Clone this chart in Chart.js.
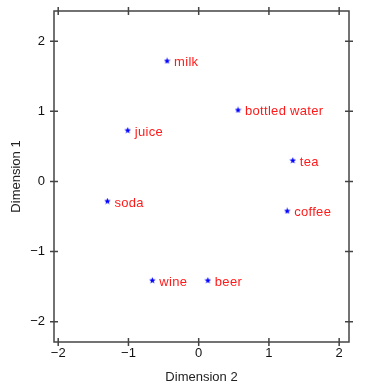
<!DOCTYPE html>
<html><head><meta charset="utf-8">
<script src="https://cdn.jsdelivr.net/npm/chart.js@4"></script>
<style>html,body{margin:0;padding:0;background:#fff}</style>
</head><body>
<canvas id="c" width="381" height="386"></canvas>
<script>
// Data
const labels = ['milk', 'bottled water', 'juice', 'tea', 'soda', 'coffee', 'wine', 'beer'];
const dim2 = [-0.45, 0.56, -1.01, 1.34, -1.30, 1.26, -0.66, 0.13];
const dim1 = [1.72, 1.02, 0.73, 0.30, -0.28, -0.42, -1.41, -1.41];
const tickValues = [-2, -1, 0, 1, 2];
const xTitle = 'Dimension 2';
const yTitle = 'Dimension 1';

const FONT = "'Liberation Sans', Arial, Helvetica, sans-serif";
const AXIS_COLOR = '#444';

// small filled 5-point star marker
function makeStar(color) {
  const c = document.createElement('canvas');
  c.width = 7; c.height = 7;
  const g = c.getContext('2d');
  g.fillStyle = color;
  g.beginPath();
  for (let i = 0; i < 10; i++) {
    const r = i % 2 === 0 ? 3.4 : 1.5;
    const a = -Math.PI / 2 + i * Math.PI / 5;
    const px = 3.5 + r * Math.cos(a), py = 3.7 + r * Math.sin(a);
    i === 0 ? g.moveTo(px, py) : g.lineTo(px, py);
  }
  g.closePath();
  g.fill();
  return c;
}

const points = dim2.map((x, i) => ({x: x, y: dim1[i]}));
const fmt = v => (v < 0 ? '\u2212' + Math.abs(v) : String(v));

const frame = {
  id: 'frame',
  afterDraw(chart) {
    const {ctx, chartArea: a, scales} = chart;
    ctx.save();
    ctx.strokeStyle = AXIS_COLOR;
    ctx.lineWidth = 1.5;
    ctx.strokeRect(a.left, a.top, a.right - a.left, a.bottom - a.top);
    ctx.beginPath();
    tickValues.forEach(v => {
      const x = scales.x.getPixelForValue(v);
      ctx.moveTo(x, a.top - 4); ctx.lineTo(x, a.top + 4);
      ctx.moveTo(x, a.bottom - 4); ctx.lineTo(x, a.bottom + 4);
      const y = scales.y.getPixelForValue(v);
      ctx.moveTo(a.left - 4, y); ctx.lineTo(a.left + 4, y);
      ctx.moveTo(a.right - 4, y); ctx.lineTo(a.right + 4, y);
    });
    ctx.stroke();
    ctx.restore();
  }
};

const pointLabels = {
  id: 'pointLabels',
  afterDatasetsDraw(chart) {
    const {ctx} = chart;
    const meta = chart.getDatasetMeta(0);
    ctx.save();
    ctx.font = '13px ' + FONT;
    if ('letterSpacing' in ctx) ctx.letterSpacing = '0.3px';
    ctx.fillStyle = '#ff1a1a';
    ctx.textAlign = 'left';
    ctx.textBaseline = 'middle';
    meta.data.forEach((el, i) => {
      ctx.fillText(labels[i], el.x + 7, el.y + 2);
    });
    ctx.restore();
  }
};

new Chart(document.getElementById('c'), {
  type: 'scatter',
  data: {
    datasets: [{
      data: points,
      pointStyle: makeStar('#0000ff'),
      pointRadius: 3,
      pointHoverRadius: 3
    }]
  },
  options: {
    responsive: false,
    animation: false,
    devicePixelRatio: 1,
    events: [],
    layout: {padding: {left: 0, top: 11, right: 32, bottom: 0}},
    plugins: {legend: {display: false}, tooltip: {enabled: false}},
    scales: {
      x: {
        type: 'linear',
        min: -2.06, max: 2.14,
        afterBuildTicks: s => { s.ticks = tickValues.map(v => ({value: v})); },
        afterFit: s => { s.height = 44; s.paddingLeft = 0; s.paddingRight = 0; },
        grid: {display: false, drawTicks: false},
        border: {display: false},
        ticks: {
          callback: v => fmt(v),
          color: '#111',
          padding: 4,
          maxRotation: 0,
          font: {family: FONT, size: 13}
        },
        title: {
          display: true, text: xTitle, color: '#222',
          font: {family: FONT, size: 13},
          padding: {top: 0, bottom: 1}
        }
      },
      y: {
        type: 'linear',
        min: -2.29, max: 2.43,
        afterBuildTicks: s => { s.ticks = tickValues.map(v => ({value: v})); },
        afterFit: s => { s.width = 54; s.paddingTop = 0; s.paddingBottom = 0; },
        grid: {display: false, drawTicks: false},
        border: {display: false},
        ticks: {
          callback: v => fmt(v),
          color: '#111',
          padding: 9,
          font: {family: FONT, size: 13}
        },
        title: {
          display: true, text: yTitle, color: '#222',
          font: {family: FONT, size: 13},
          padding: {top: 9, bottom: 0}
        }
      }
    }
  },
  plugins: [frame, pointLabels]
});
</script>
</body></html>
